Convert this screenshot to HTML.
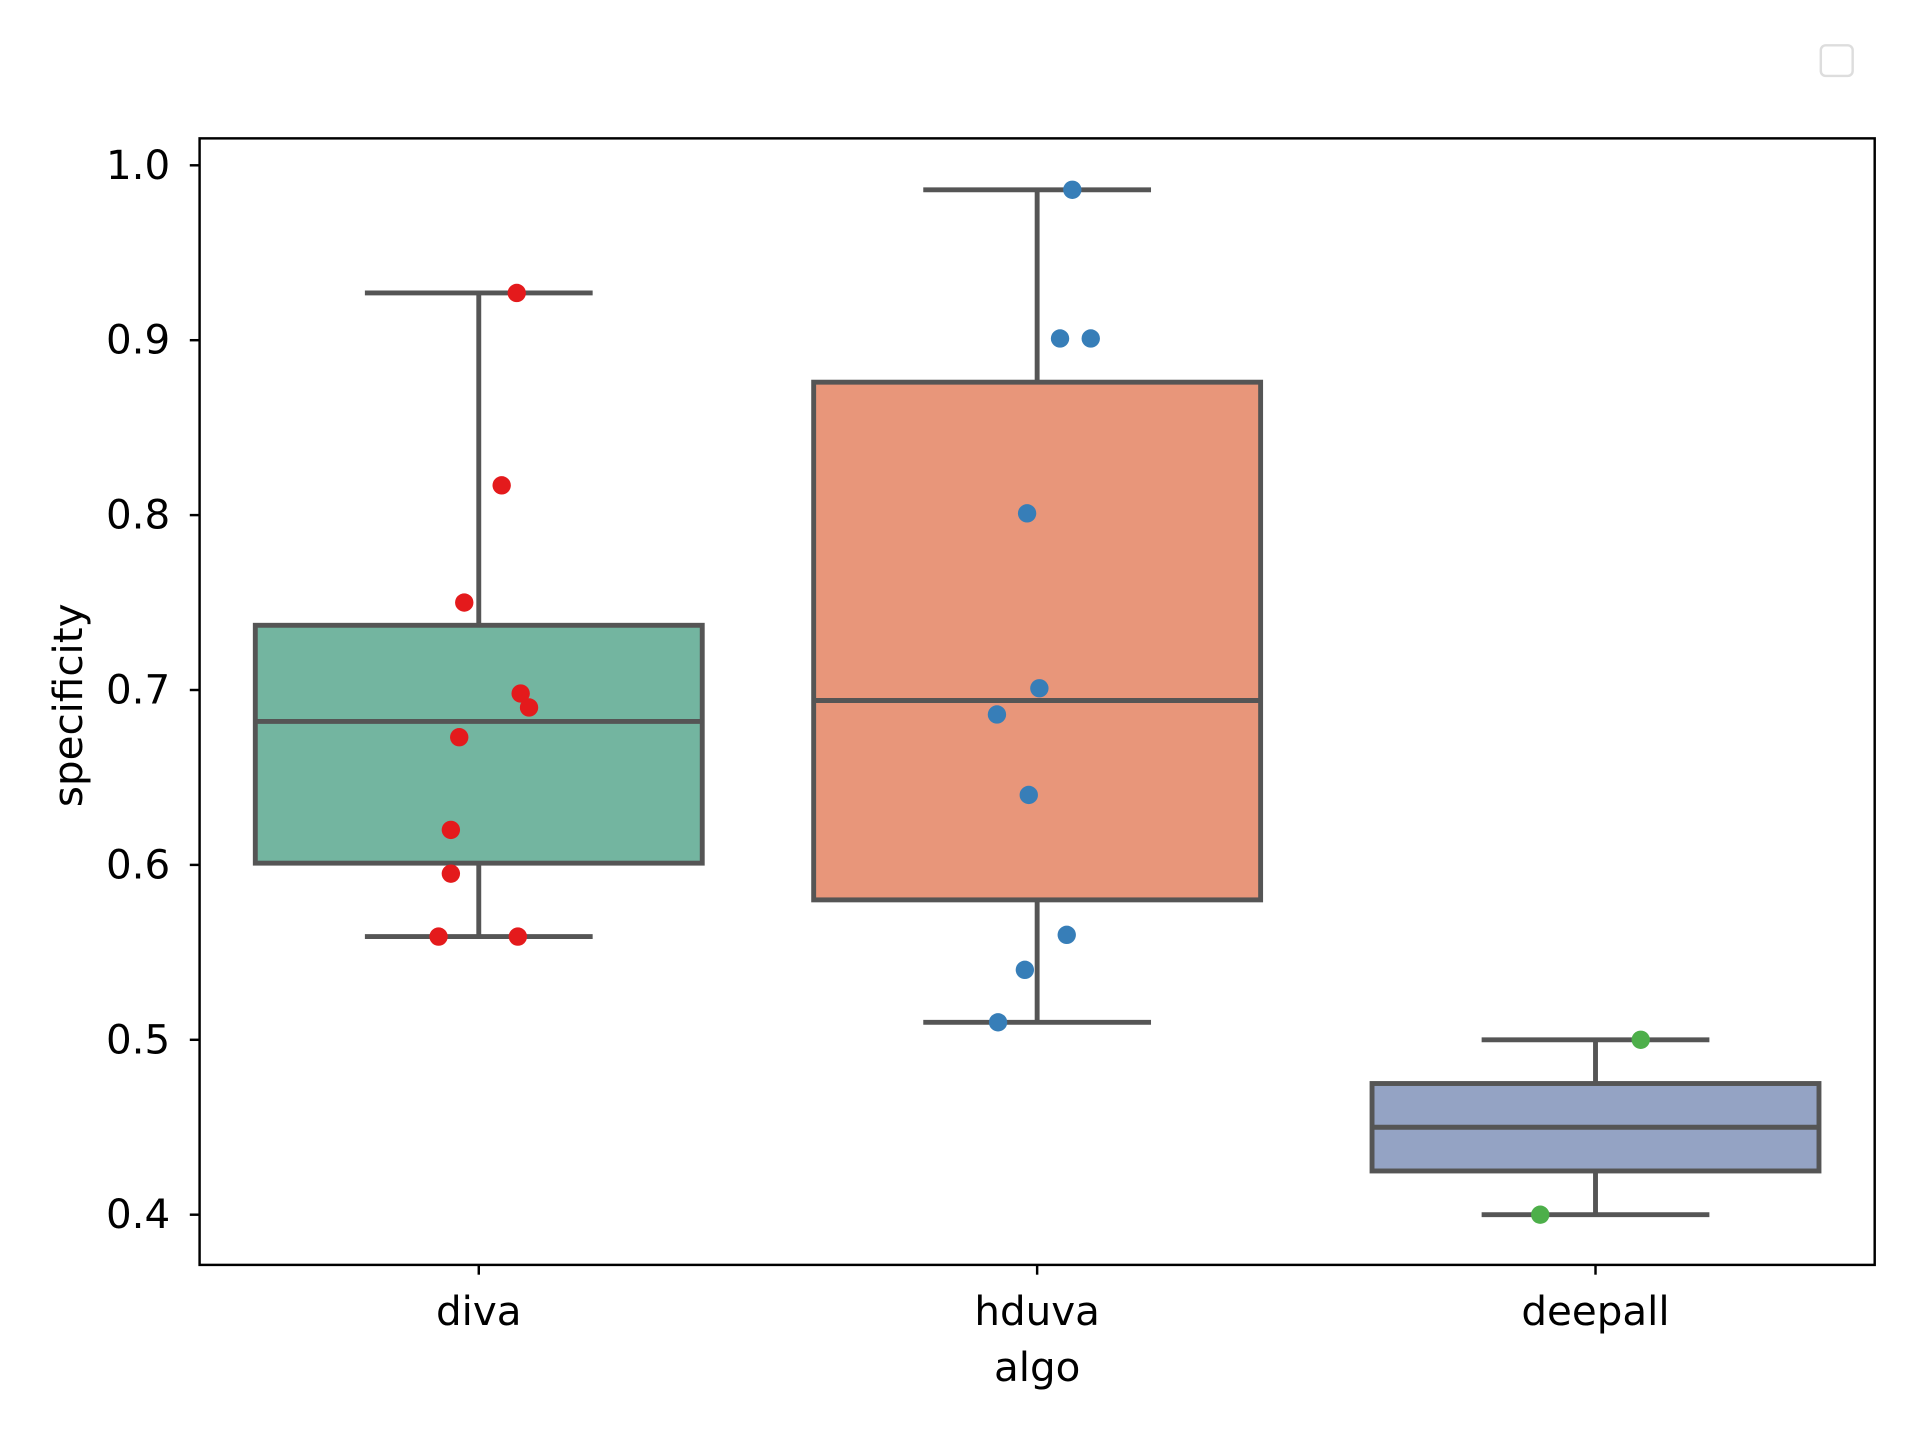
<!DOCTYPE html>
<html><head><meta charset="utf-8"><style>
html,body{margin:0;padding:0;background:#fff;}
svg{display:block;font-family:"DejaVu Sans","Liberation Sans",sans-serif;}
</style></head><body>
<svg id="chart" width="1920" height="1440" viewBox="0 0 1568 1176" xmlns="http://www.w3.org/2000/svg">
<rect x="1487" y="37" width="26" height="25" rx="4" fill="#fff" stroke="#ddd" stroke-width="2"/>
<g id="plot"></g>
<rect x="163" y="113" width="1368" height="920" fill="none" stroke="#000" stroke-width="2"/>
<text x="847" y="1128" font-size="33" text-anchor="middle">algo</text>
<text transform="translate(67,576) rotate(-90)" font-size="33" text-anchor="middle">specificity</text>
</svg>
<script>
const categories = ["diva","hduva","deepall"];
const whiskerLow = [0.559, 0.51, 0.40];
const q1 = [0.601, 0.58, 0.425];
const medians = [0.682, 0.694, 0.45];
const q3 = [0.737, 0.876, 0.475];
const whiskerHigh = [0.927, 0.986, 0.50];
const boxColors = ["#73b5a0","#e8967a","#94a3c4"];
const pointColors = ["#e41a1c","#377eb8","#4daf4a"];
const pointValues = [
  [0.927,0.817,0.750,0.698,0.690,0.673,0.620,0.595,0.559,0.559],
  [0.986,0.901,0.901,0.801,0.701,0.686,0.640,0.560,0.540,0.510],
  [0.50,0.40]
];
const pointJitter = [
  [0.068,0.041,-0.026,0.075,0.090,-0.035,-0.050,-0.050,-0.072,0.070],
  [0.063,0.041,0.096,-0.018,0.004,-0.072,-0.015,0.053,-0.022,-0.070],
  [0.081,-0.099]
];
const yTicks = [0.4,0.5,0.6,0.7,0.8,0.9,1.0];
const yTickLabels = ["0.4","0.5","0.6","0.7","0.8","0.9","1.0"];

const NS="http://www.w3.org/2000/svg";
const g=document.getElementById('plot');
const y=v=>992-(v-0.4)*(857/0.6);
const x=i=>391+i*456;
const bandW=456, boxW=365;
function el(tag,attrs,parent){const e=document.createElementNS(NS,tag);for(const k in attrs)e.setAttribute(k,attrs[k]);(parent||g).appendChild(e);return e;}
yTicks.forEach((t,i)=>{
  const l=el('line',{x1:155,x2:163,y1:y(t),y2:y(t),stroke:'#000','stroke-width':2});
  
  
  const tx=el('text',{x:139,y:y(t)+11,'font-size':33,'text-anchor':'end'});
  tx.textContent=yTickLabels[i];
  
  
});
categories.forEach((c,i)=>{
  const cx=x(i), line='#555';
  const l=el('line',{x1:cx,x2:cx,y1:1033,y2:1041,stroke:'#000','stroke-width':2});
  
  
  const tx=el('text',{x:cx,y:1082,'font-size':33,'text-anchor':'middle'});
  tx.textContent=c;
  
  
  const grp=el('g',{});
  
  
  el('line',{x1:cx,x2:cx,y1:y(whiskerHigh[i]),y2:y(q3[i]),stroke:line,'stroke-width':4},grp);
  el('line',{x1:cx,x2:cx,y1:y(q1[i]),y2:y(whiskerLow[i]),stroke:line,'stroke-width':4},grp);
  const cw=93;
  el('line',{x1:cx-cw,x2:cx+cw,y1:y(whiskerHigh[i]),y2:y(whiskerHigh[i]),stroke:line,'stroke-width':4},grp);
  el('line',{x1:cx-cw,x2:cx+cw,y1:y(whiskerLow[i]),y2:y(whiskerLow[i]),stroke:line,'stroke-width':4},grp);
  el('rect',{x:cx-boxW/2,y:y(q3[i]),width:boxW,height:y(q1[i])-y(q3[i]),fill:boxColors[i],stroke:line,'stroke-width':4},grp);
  el('line',{x1:cx-boxW/2,x2:cx+boxW/2,y1:y(medians[i]),y2:y(medians[i]),stroke:line,'stroke-width':4},grp);
});
categories.forEach((c,i)=>{
  pointValues[i].forEach((v,j)=>{
    const p=el('circle',{cx:x(i)+pointJitter[i][j]*bandW,cy:y(v),r:7.5,fill:pointColors[i]});
    
    
  });
});
</script>
</body></html>
